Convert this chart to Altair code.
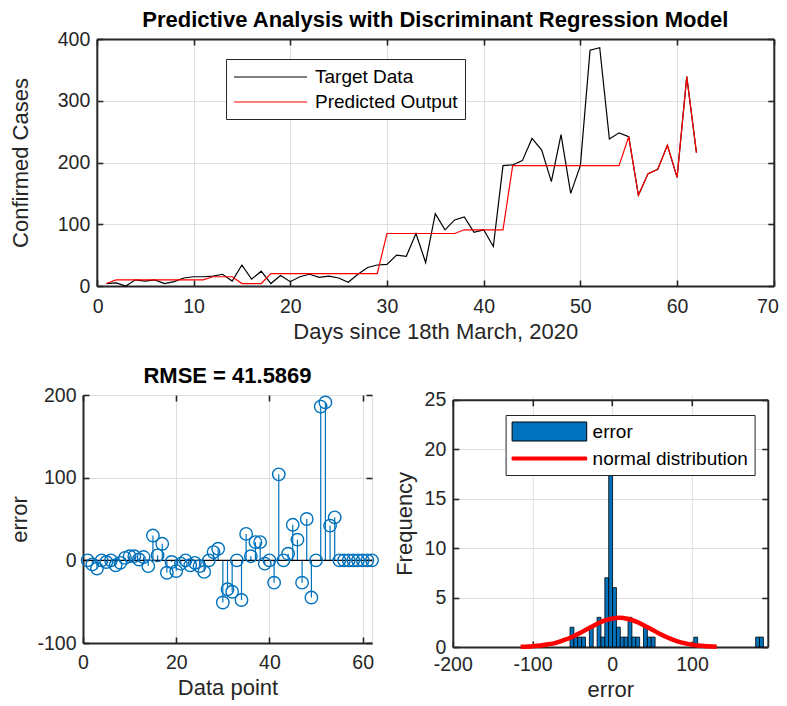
import altair as alt
import pandas as pd

FONT = "Liberation Sans"
AX = "#262626"
GRID = "#dedede"
BLUE = "#0072BD"
TICK_FS = 19.5
TITLE_FS = 22

# ---------------- data ----------------
days = list(range(1, 63))
target_cases = [4, 5, 0, 10, 8, 10, 4, 7, 13, 15,
                15, 16, 19, 8, 34, 11, 24, 4, 17, 7,
                15, 19, 14, 16, 13, 6, 19, 30, 34, 35,
                50, 48, 85, 38, 117, 91, 107, 112, 87, 91,
                64, 195, 196, 203, 239, 220, 169, 245, 150, 195,
                382, 386, 238, 248, 242, 147, 182, 189, 228, 176, 339, 216]
predicted_cases = [4, 10, 10, 10, 10, 10, 10, 10, 10, 10,
                   10, 15, 15, 15, 4, 4, 4, 20, 20, 20,
                   20, 20, 20, 20, 20, 20, 20, 20, 20, 85,
                   85, 85, 85, 85, 85, 85, 85, 91, 91, 91,
                   91, 91, 195, 195, 195, 195, 195, 195, 195, 195,
                   195, 195, 195, 195, 242, 147, 182, 189, 228, 176, 339, 216]
errors = [0, -5, -10, 0, -2, 0, -6, -3, 3, 5,
          5, 1, 4, -7, 30, 6, 20, -15, -2, -13,
          -4, 0, -6, -3, -7, -14, 0, 10, 14, -51,
          -35, -38, 0, -48, 32, 5, 22, 22, -4, 0,
          -27, 104, 0, 8, 43, 25, -27, 50, -45, 0,
          186, 191, 42, 52, 0, 0, 0, 0, 0, 0, 0, 0]
bin_width = 4.85
bin_left = [-53.0, -48.15, -43.3, -38.45, -28.75, -19.05, -14.2, -9.35, -4.5, 0.35,
            5.2, 10.05, 14.9, 19.75, 24.6, 29.45, 39.15, 44.0, 48.85, 102.2,
            179.8, 184.65]
bin_count = [2, 1, 1, 1, 2, 3, 1, 7, 22, 6,
             2, 1, 1, 3, 1, 1, 2, 1, 1, 1,
             1, 1]
curve_x = [-115, -100, -90, -80, -70, -60, -50, -40, -30, -20, -10, 0, 9,
           20, 30, 40, 50, 60, 70, 80, 90, 100, 115, 131]
curve_y = [0.03, 0.08, 0.15, 0.27, 0.45, 0.71, 1.04, 1.44, 1.88, 2.30, 2.66, 2.89, 2.95,
           2.83, 2.56, 2.18, 1.75, 1.32, 0.93, 0.62, 0.39, 0.23, 0.09, 0.03]

series_names = ["Target Data", "Predicted Output"]
hist_names = ["error", "normal distribution"]
top_x_ticks = [0, 10, 20, 30, 40, 50, 60, 70]
top_y_ticks = [0, 100, 200, 300, 400]
stem_x_ticks = [0, 20, 40, 60]
stem_y_ticks = [-100, 0, 100, 200]
hist_x_ticks = [-200, -100, 0, 100]
hist_y_ticks = [0, 5, 10, 15, 20, 25]

PLAIN_LABEL = "'' + datum.value"   # ASCII hyphen for negatives, as in the reference


def tick_axis(orient, values, title=None, labels=True, offset=-6, title_pad=6, label_pad=7, **extra):
    """Axis giving MATLAB-like inward ticks (plus labels / title when asked)."""
    return alt.Axis(orient=orient, values=values, grid=False, domain=False,
                    ticks=True, tickSize=6, offset=offset, tickColor=AX, tickWidth=1.6,
                    labels=labels, labelFont=FONT, labelFontSize=TICK_FS, labelColor=AX,
                    labelPadding=label_pad, labelOverlap=False, labelExpr=PLAIN_LABEL,
                    title=title, titleFont=FONT, titleFontSize=TITLE_FS, titleFontWeight="normal",
                    titleColor=AX, titlePadding=title_pad, **extra)


def frame_axis(orient, values, grid=False, offset=0):
    """Axis giving only the frame line (and the grid)."""
    return alt.Axis(orient=orient, values=values, grid=grid, gridColor=GRID, gridWidth=1,
                    domain=True, domainColor=AX, domainWidth=2, ticks=False, labels=False,
                    title=None, offset=offset)


# ---------------- top chart ----------------
LEFT_SHIFT = 13.8   # the top frame starts right of the bottom-left frame
TOP_W = 677
top_df = pd.DataFrame({
    "day": days * 2,
    "cases": target_cases + predicted_cases,
    "series": [series_names[0]] * len(days) + [series_names[1]] * len(days),
})
tx = alt.Scale(domain=[0, 70], range=[LEFT_SHIFT, LEFT_SHIFT + TOP_W], nice=False, zero=False)
ty = alt.Scale(domain=[0, 400], nice=False)
color_scale = alt.Scale(domain=series_names, range=["#000000", "#FF0000"])
top_legend = alt.Legend(title=None, orient="none", legendX=143, legendY=20, direction="vertical",
                        symbolType="M-1,0H6.3", symbolSize=400, symbolStrokeWidth=1.2,
                        labelOffset=60, labelFont=FONT, labelFontSize=19, labelColor="#000000",
                        padding=7, rowPadding=4, strokeColor=AX, fillColor="white")

top_base = alt.Chart(top_df)
top_black = top_base.mark_line(strokeWidth=1.2).transform_filter(
    alt.datum.series == series_names[0]).encode(
    x=alt.X("day:Q", scale=tx, axis=tick_axis("bottom", top_x_ticks, "Days since 18th March, 2020",
                                              title_pad=6, label_pad=11,
                                              labelFlush=True, labelFlushOffset=4.5)),
    y=alt.Y("cases:Q", scale=ty, axis=tick_axis("left", top_y_ticks, "Confirmed Cases",
                                                offset=-(LEFT_SHIFT + 6), title_pad=25,
                                                labelFlush=False)),
    color=alt.Color("series:N", scale=color_scale, legend=top_legend),
)
top_red = top_base.mark_line(strokeWidth=1.2).transform_filter(
    alt.datum.series == series_names[1]).encode(
    x=alt.X("day:Q", scale=tx, axis=tick_axis("top", top_x_ticks, labels=False)),
    y=alt.Y("cases:Q", scale=ty, axis=tick_axis("right", top_y_ticks, labels=False)),
    color=alt.Color("series:N", scale=color_scale, legend=top_legend),
)
top_frame_a = top_base.mark_point(opacity=0).encode(
    x=alt.X("day:Q", scale=tx, axis=frame_axis("bottom", top_x_ticks, grid=True)),
    y=alt.Y("cases:Q", scale=ty, axis=frame_axis("left", top_y_ticks, grid=True, offset=-LEFT_SHIFT)),
)
top_frame_b = top_base.mark_point(opacity=0).encode(
    x=alt.X("day:Q", scale=tx, axis=frame_axis("top", top_x_ticks)),
    y=alt.Y("cases:Q", scale=ty, axis=frame_axis("right", top_y_ticks)),
)
top = alt.layer(top_frame_a, top_frame_b, top_black, top_red).resolve_axis(
    x="independent", y="independent").properties(
    width=LEFT_SHIFT + TOP_W, height=247,
    view=alt.ViewBackground(stroke="transparent"),
    title=alt.TitleParams("Predictive Analysis with Discriminant Regression Model", font=FONT,
                          fontSize=22, fontWeight="bold", color="#000000", offset=-2.5,
                          anchor="middle", dx=LEFT_SHIFT / 2),
)

# ---------------- stem chart ----------------
err_df = pd.DataFrame({"i": days, "err": errors})
sx = alt.Scale(domain=[0, 62], nice=False, zero=False)
sy = alt.Scale(domain=[-100, 200], nice=False)
stems = alt.Chart(err_df).mark_rule(color=BLUE, strokeWidth=1.2).encode(
    x=alt.X("i:Q", scale=sx, axis=tick_axis("top", stem_x_ticks, labels=False)),
    y=alt.Y("err:Q", scale=sy, axis=tick_axis("right", stem_y_ticks, labels=False)),
    y2=alt.datum(0),
)
baseline = alt.Chart(pd.DataFrame({"z": [0]})).mark_rule(color="#000000", strokeWidth=1.2).encode(
    y=alt.Y("z:Q", scale=sy, axis=None),
)
stem_grid = alt.Chart(err_df).mark_point(opacity=0).encode(
    x=alt.X("i:Q", scale=sx, axis=frame_axis("bottom", stem_x_ticks, grid=True)),
    y=alt.Y("err:Q", scale=sy, axis=frame_axis("left", stem_y_ticks, grid=True)),
)
circles = alt.Chart(err_df).mark_point(shape="circle", filled=False, color=BLUE, size=155,
                                       strokeWidth=1.4, opacity=1).encode(
    x=alt.X("i:Q", scale=sx, axis=tick_axis("bottom", stem_x_ticks, "Data point",
                                            title_pad=6, label_pad=10, labelFlush=False)),
    y=alt.Y("err:Q", scale=sy, axis=tick_axis("left", stem_y_ticks, "error", title_pad=5,
                                              labelFlush=False)),
)
stem = alt.layer(stem_grid, stems, baseline, circles).resolve_axis(
    x="independent", y="independent").properties(
    width=289, height=248,
    title=alt.TitleParams("RMSE = 41.5869", font=FONT, fontSize=22, fontWeight="bold",
                          color="#000000", offset=-2.6, anchor="middle"),
)

# ---------------- histogram ----------------
HIST_DROP = 4.7     # the histogram frame starts a little lower than the stem frame
HIST_H = 252
hist_df = pd.DataFrame({"lo": bin_left, "count": bin_count})
hist_df["hi"] = hist_df["lo"] + bin_width
curve_df = pd.DataFrame({"x": curve_x, "y": curve_y})
hx = alt.Scale(domain=[-200, 195], nice=False, zero=False)
hy = alt.Scale(domain=[0, 25], range=[HIST_H, HIST_DROP], nice=False)
hist_frame_a = alt.Chart(hist_df).mark_point(opacity=0).encode(
    x=alt.X("lo:Q", scale=hx, axis=frame_axis("bottom", hist_x_ticks, grid=True)),
    y=alt.Y("count:Q", scale=hy, axis=frame_axis("left", hist_y_ticks, grid=True)),
)
hist_frame_b = alt.Chart(hist_df).mark_point(opacity=0).encode(
    x=alt.X("lo:Q", scale=hx, axis=frame_axis("top", hist_x_ticks, offset=-HIST_DROP)),
    y=alt.Y("count:Q", scale=hy, axis=frame_axis("right", hist_y_ticks)),
)
bars = alt.Chart(hist_df).mark_rect(fill=BLUE, stroke="#000000", strokeWidth=0.8).encode(
    x=alt.X("lo:Q", scale=hx, axis=tick_axis("bottom", hist_x_ticks, "error", title_pad=6,
                                             label_pad=8, labelFlush=False)),
    x2="hi:Q",
    y=alt.Y("count:Q", scale=hy, axis=tick_axis("left", hist_y_ticks, "Frequency", title_pad=8,
                                                labelFlush=False)),
    y2=alt.datum(0),
)
curve = alt.Chart(curve_df).mark_line(color="#FF0000", strokeWidth=4.5, interpolate="monotone").encode(
    x=alt.X("x:Q", scale=hx, axis=tick_axis("top", hist_x_ticks, labels=False, offset=-(HIST_DROP + 6))),
    y=alt.Y("y:Q", scale=hy, axis=tick_axis("right", hist_y_ticks, labels=False)),
)
hist_legend = alt.Legend(title=None, orient="none", legendX=422.6, legendY=376, direction="vertical",
                         symbolSize=400, symbolStrokeWidth=1, labelOffset=60, labelFont=FONT,
                         labelFontSize=19, labelColor="#000000", padding=6, rowPadding=5,
                         strokeColor=AX, fillColor="white")
legend_df = pd.DataFrame({"k": hist_names})
legend_layer = alt.Chart(legend_df).mark_point(filled=True, size=400, opacity=1).encode(
    fill=alt.Fill("k:N", scale=alt.Scale(domain=hist_names, range=[BLUE, "#FF0000"]), legend=hist_legend),
    stroke=alt.Stroke("k:N", scale=alt.Scale(domain=hist_names, range=["#000000", "#FF0000"]),
                      legend=hist_legend),
    shape=alt.Shape("k:N", scale=alt.Scale(domain=hist_names,
                                           range=["M-1,-0.95H6.46V0.95H-1Z", "M-1,-0.15H6.46V0.15H-1Z"]),
                    legend=hist_legend),
).transform_filter("false")
hist = alt.layer(hist_frame_a, hist_frame_b, bars, curve, legend_layer).resolve_axis(
    x="independent", y="independent").properties(
    width=315, height=HIST_H, view=alt.ViewBackground(stroke="transparent"))

bottom = alt.hconcat(stem, hist, spacing=9.8)
chart = alt.vconcat(top, bottom, spacing=21).properties(
    padding={"left": 0, "top": 0, "right": 0, "bottom": 0},
).configure_view(stroke=AX, strokeWidth=2).configure(font=FONT, background="white")

chart.save("out.html", embed_options={"renderer": "svg", "actions": False})
